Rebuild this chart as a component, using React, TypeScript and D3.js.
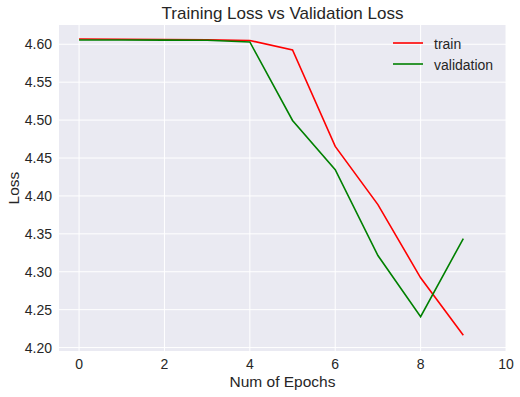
import React, { useEffect, useRef } from 'react';
import * as d3 from 'd3';

const epochs = [0, 1, 2, 3, 4, 5, 6, 7, 8, 9];
const trainLoss = [4.607, 4.6067, 4.6063, 4.6058, 4.605, 4.5925, 4.4653, 4.3886, 4.292, 4.2162];
const validationLoss = [4.6057, 4.6056, 4.6055, 4.6053, 4.603, 4.4995, 4.4346, 4.3214, 4.2408, 4.3438];
const xTicks = [0, 2, 4, 6, 8, 10];
const yTicks = [4.2, 4.25, 4.3, 4.35, 4.4, 4.45, 4.5, 4.55, 4.6];
const series = [
  { name: 'train', values: trainLoss, color: '#ff0000' },
  { name: 'validation', values: validationLoss, color: '#008000' },
];

const App: React.FC = () => {
  const svgRef = useRef<SVGSVGElement>(null);

  useEffect(() => {
    if (!svgRef.current) return;
    const svg = d3.select(svgRef.current);
    svg.selectAll('*').remove();

    const width = 520;
    const height = 397;
    const margin = { top: 25, right: 14, bottom: 46, left: 59 };
    const font = '"Liberation Sans", Arial, sans-serif';
    const textColor = '#262626';

    const x = d3.scaleLinear()
      .domain([-0.47, 10])
      .range([margin.left, width - margin.right]);
    const y = d3.scaleLinear()
      .domain([4.1955, 4.6254])
      .range([height - margin.bottom, margin.top]);

    svg.append('rect')
      .attr('x', margin.left)
      .attr('y', margin.top)
      .attr('width', width - margin.left - margin.right)
      .attr('height', height - margin.top - margin.bottom)
      .attr('fill', '#eaeaf2');

    // grid
    svg.append('g')
      .selectAll('line')
      .data(xTicks)
      .join('line')
      .attr('x1', d => x(d)).attr('x2', d => x(d))
      .attr('y1', margin.top).attr('y2', height - margin.bottom)
      .attr('stroke', '#fff').attr('stroke-width', 1);
    svg.append('g')
      .selectAll('line')
      .data(yTicks)
      .join('line')
      .attr('x1', margin.left).attr('x2', width - margin.right)
      .attr('y1', d => y(d)).attr('y2', d => y(d))
      .attr('stroke', '#fff').attr('stroke-width', 1);

    // tick labels
    svg.append('g')
      .selectAll('text')
      .data(xTicks)
      .join('text')
      .attr('x', d => x(d))
      .attr('y', 369)
      .attr('text-anchor', 'middle')
      .attr('font-family', font)
      .attr('font-size', 14)
      .attr('fill', textColor)
      .text(d => String(d));
    svg.append('g')
      .selectAll('text')
      .data(yTicks)
      .join('text')
      .attr('x', 52)
      .attr('y', d => y(d) + 5)
      .attr('text-anchor', 'end')
      .attr('font-family', font)
      .attr('font-size', 14)
      .attr('fill', textColor)
      .text(d => d3.format('.2f')(d));

    const line = d3.line<number>()
      .x((_, i) => x(epochs[i]))
      .y(d => y(d));

    series.forEach(s => {
      svg.append('path')
        .datum(s.values)
        .attr('fill', 'none')
        .attr('stroke', s.color)
        .attr('stroke-width', 1.6)
        .attr('d', line);
    });

    // legend
    const legend = svg.append('g');
    series.forEach((s, i) => {
      const ly = 43 + i * 21;
      legend.append('line')
        .attr('x1', 393).attr('x2', 423)
        .attr('y1', ly).attr('y2', ly)
        .attr('stroke', s.color).attr('stroke-width', 1.6);
      legend.append('text')
        .attr('x', 434).attr('y', ly + 5.5)
        .attr('font-family', font)
        .attr('font-size', 14)
        .attr('fill', textColor)
        .text(s.name);
    });

    svg.append('text')
      .attr('x', (margin.left + width - margin.right) / 2)
      .attr('y', 19)
      .attr('text-anchor', 'middle')
      .attr('font-family', font)
      .attr('font-size', 17)
      .attr('fill', textColor)
      .text('Training Loss vs Validation Loss');

    svg.append('text')
      .attr('x', (margin.left + width - margin.right) / 2)
      .attr('y', 387)
      .attr('text-anchor', 'middle')
      .attr('font-family', font)
      .attr('font-size', 15.5)
      .attr('fill', textColor)
      .text('Num of Epochs');

    svg.append('text')
      .attr('transform', `translate(19,${(margin.top + height - margin.bottom) / 2}) rotate(-90)`)
      .attr('text-anchor', 'middle')
      .attr('font-family', font)
      .attr('font-size', 15.5)
      .attr('fill', textColor)
      .text('Loss');
  }, []);

  return (
    <svg
      ref={svgRef}
      width={520}
      height={397}
      style={{ position: 'absolute', left: 0, top: 0, background: '#fff' }}
    />
  );
};

export default App;
